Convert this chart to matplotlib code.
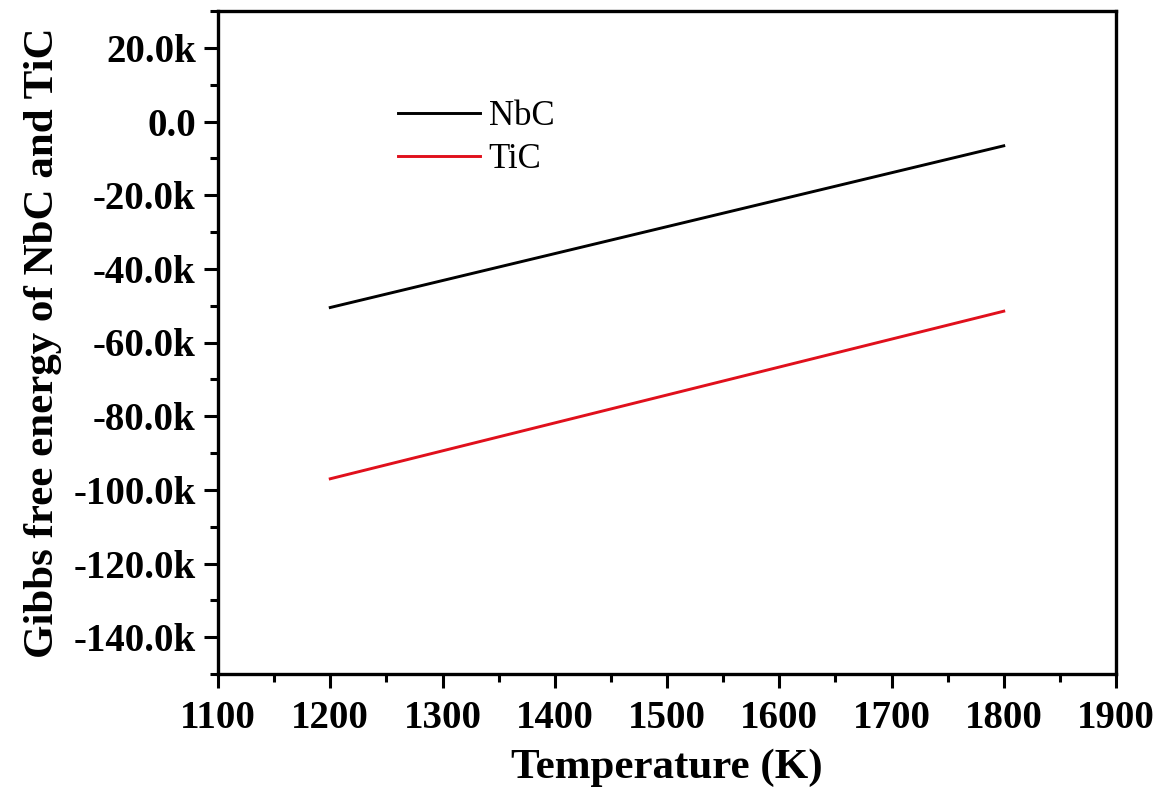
import matplotlib
matplotlib.use("Agg")
import matplotlib.pyplot as plt
from matplotlib.ticker import MultipleLocator, FuncFormatter

temperature = [1200, 1800]
nbc = [-50500, -6600]
tic = [-97000, -51500]

plt.rcParams['font.family'] = ['Liberation Serif', 'DejaVu Serif']

fig = plt.figure(figsize=(11.67, 7.93), dpi=100)
ax = fig.add_axes([218/1167, 1-674/793, (1116-218)/1167, (674-11)/793])

ax.plot(temperature, nbc, color='black', lw=2.1, label='NbC')
ax.plot(temperature, tic, color='#e0101c', lw=2.1, label='TiC')

ax.set_xlim(1100, 1900)
ax.set_ylim(-150000, 30000)
ax.xaxis.set_major_locator(MultipleLocator(100))
ax.xaxis.set_minor_locator(MultipleLocator(50))
ax.yaxis.set_major_locator(MultipleLocator(20000))
ax.yaxis.set_minor_locator(MultipleLocator(10000))

def fmt(v, pos):
    if abs(v) < 1e-9:
        return '0.0'
    return f'{v/1000:.1f}k'
ax.yaxis.set_major_formatter(FuncFormatter(fmt))

for s in ax.spines.values():
    s.set_linewidth(2.4)
ax.tick_params(which='major', direction='out', length=10, width=2.2, labelsize=28)
ax.tick_params(axis='y', which='major', pad=6)
ax.tick_params(axis='x', which='major', pad=9)
ax.tick_params(which='minor', direction='out', length=5.5, width=2.2)
for lab in ax.get_xticklabels() + ax.get_yticklabels():
    lab.set_fontweight('bold')

ax.set_xlabel('Temperature (K)', fontsize=31, fontweight='bold', labelpad=8)
ax.set_ylabel('Gibbs free energy of NbC and TiC', fontsize=31, fontweight='bold', labelpad=8)

leg = ax.legend(loc='upper left', bbox_to_anchor=(0.2004, 0.866), frameon=False,
                fontsize=25, handlelength=2.36, handletextpad=0.25, labelspacing=0.3,
                borderpad=0, borderaxespad=0)

fig.savefig('out.png', dpi=100)
